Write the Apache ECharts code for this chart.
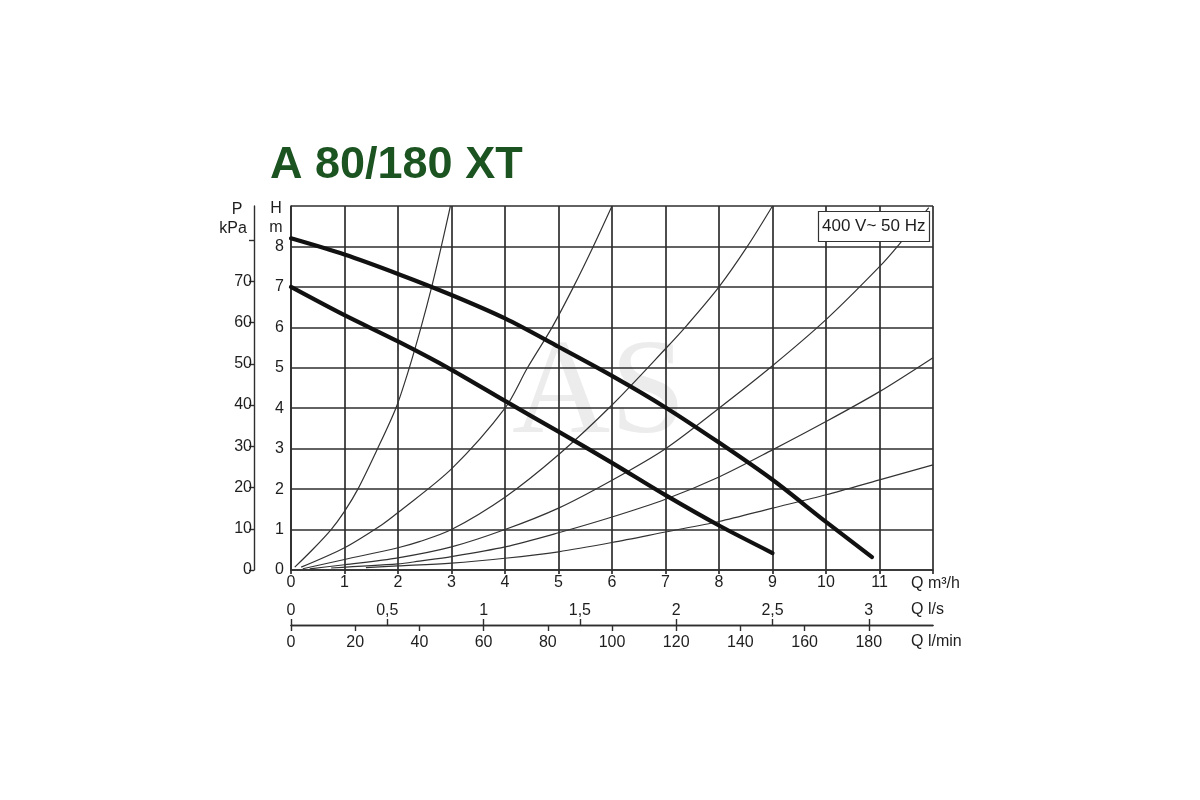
<!DOCTYPE html>
<html>
<head>
<meta charset="utf-8">
<script src="https://cdn.jsdelivr.net/npm/echarts@6/dist/echarts.min.js"></script>
<style>
html,body{margin:0;padding:0;background:#fff;}
#chart{width:1200px;height:800px;}
</style>
</head>
<body>
<div id="chart"></div>
<script>
// ---- Data (Q in m3/h, H in m) ----
const titleText = 'A 80/180 XT';
const supplyText = '400 V~ 50 Hz';

// pump curves (thick)
const pumpHigh = [[0,8.2],[1,7.8],[2,7.32],[3,6.8],[4,6.22],[5,5.52],[6,4.8],[7,4.02],[8,3.15],[9,2.23],[10,1.19],[10.86,0.32]];
const pumpLow  = [[0,7.0],[1,6.3],[2,5.65],[3,4.95],[4,4.18],[5,3.42],[6,2.65],[7,1.85],[8,1.1],[9,0.42]];

// system curves (thin)
const sys1 = [[0.07,0.07],[0.4,0.5],[0.75,1.0],[1,1.45],[1.25,2.0],[1.6,2.95],[1.96,4.0],[2.2,4.95],[2.43,6.0],[2.63,7.0],[2.81,8.0],[2.98,9.0]];
const sys2 = [[0.19,0.07],[1,0.55],[1.7,1.12],[2,1.42],[3,2.5],[4,4.0],[4.42,5.0],[4.88,6.0],[5.28,7.0],[5.65,8.0],[6,9.0]];
const sys3 = [[0.22,0.03],[1,0.26],[2,0.55],[2.4,0.7],[3,1.0],[4,1.8],[5,2.85],[6,4.08],[7,5.47],[7.4,6.05],[8,7.0],[8.53,8.0],[9,9.0]];
const sys4 = [[0.35,0.03],[1,0.13],[2,0.3],[3,0.57],[4,1.0],[5,1.53],[6,2.22],[7,3.0],[8,4.0],[9,5.05],[10,6.19],[11,7.5],[11.36,8.04],[11.92,8.96]];
const sys5 = [[0.75,0.05],[2,0.15],[2.4,0.22],[3,0.33],[4,0.57],[5,0.92],[6,1.31],[7,1.75],[8,2.3],[9,2.97],[10,3.67],[11,4.41],[12,5.25]];
const sys6 = [[1.4,0.06],[2,0.1],[3,0.17],[4,0.29],[5,0.45],[6,0.68],[7,0.94],[8,1.2],[9,1.53],[10,1.86],[11,2.23],[12,2.6]];

// axis ticks / labels
const qM3hLabels = [0,1,2,3,4,5,6,7,8,9,10,11];
const qLsTicks   = [0,0.5,1,1.5,2,2.5,3];
const qLminTicks = [0,20,40,60,80,100,120,140,160,180];
const hLabels    = [0,1,2,3,4,5,6,7,8];
const pTicks     = [0,10,20,30,40,50,60,70,80];
const pLabels    = [0,10,20,30,40,50,60,70];

const FONT = "'Liberation Sans', Arial, sans-serif";
const LINE = '#2e2e2e';
const lbl = {fontSize:16, color:'#1e1e1e', fontFamily:FONT};
const nameFont = "16px 'Liberation Sans', Arial, sans-serif";

const chart = echarts.init(document.getElementById('chart'));

function thin(d){ return {type:'line', data:d, xAxisIndex:0, yAxisIndex:0, showSymbol:false, smooth:0.3,
  lineStyle:{color:'#333', width:1.2}, z:3, silent:true}; }
function thick(d){ return {type:'line', data:d, xAxisIndex:0, yAxisIndex:0, showSymbol:false, smooth:0.3,
  lineStyle:{color:'#111', width:4.2, cap:'round'}, z:4, silent:true}; }

const option = {
  backgroundColor:'#fff',
  animation:false,
  title:[
    {text:titleText, left:270, top:143, padding:0,
     textStyle:{fontSize:45, fontWeight:'bold', color:'#1b5321', fontFamily:FONT}},
    {text:supplyText, left:818, top:211, padding:[7,4,7,4], backgroundColor:'#fff',
     borderColor:'#333', borderWidth:1.2,
     textStyle:{fontSize:17, fontWeight:'normal', color:'#1e1e1e', fontFamily:FONT}}
  ],
  grid:{left:291, right:267, top:206, bottom:230, containLabel:false},
  xAxis:[
    {type:'value', min:0, max:12, interval:1, position:'bottom',
     axisLine:{show:true, onZero:false, lineStyle:{color:LINE, width:1.7}},
     axisTick:{show:true, length:4, lineStyle:{color:LINE, width:1.7}},
     axisLabel:Object.assign({customValues:qM3hLabels, margin:5}, lbl),
     splitLine:{show:true, lineStyle:{color:LINE, width:1.7}}},
    {type:'value', min:0, max:12/3.6, position:'bottom', offset:55,
     axisLine:{show:true, onZero:false, lineStyle:{color:LINE, width:1.4}},
     axisTick:{show:true, inside:true, length:6, customValues:qLsTicks, lineStyle:{color:LINE, width:1.4}},
     axisLabel:Object.assign({customValues:qLsTicks, inside:true, margin:6,
        formatter:v=>String(v).replace('.',',')}, lbl),
     splitLine:{show:false}},
    {type:'value', min:0, max:200, position:'bottom', offset:55,
     axisLine:{show:true, onZero:false, lineStyle:{color:LINE, width:1.4}},
     axisTick:{show:true, length:6, customValues:qLminTicks, lineStyle:{color:LINE, width:1.4}},
     axisLabel:Object.assign({customValues:qLminTicks, margin:10}, lbl),
     splitLine:{show:false}}
  ],
  yAxis:[
    {type:'value', min:0, max:9, interval:1, position:'left',
     axisLine:{show:true, onZero:false, lineStyle:{color:LINE, width:1.7}},
     axisTick:{show:false},
     axisLabel:Object.assign({customValues:hLabels, margin:7}, lbl),
     splitLine:{show:true, lineStyle:{color:LINE, width:1.7}}},
    {type:'value', min:0, max:9*9.80665, position:'left', offset:37,
     axisLine:{show:true, onZero:false, lineStyle:{color:LINE, width:1.4}},
     axisTick:{show:true, length:5, customValues:pTicks, lineStyle:{color:LINE, width:1.4}},
     axisLabel:Object.assign({customValues:pLabels, margin:2}, lbl),
     splitLine:{show:false}}
  ],
  graphic:[
    {type:'text', left:512, top:328, z:-10, silent:true,
     style:{text:'AS', font:"136px 'Liberation Serif', 'DejaVu Serif', serif", fill:'#ececec'}},
    {type:'text', x:237, y:210, style:{text:'P', fill:'#1e1e1e', font:nameFont, align:'center', verticalAlign:'middle'}},
    {type:'text', x:233, y:229, style:{text:'kPa', fill:'#1e1e1e', font:nameFont, align:'center', verticalAlign:'middle'}},
    {type:'text', x:276, y:209, style:{text:'H', fill:'#1e1e1e', font:nameFont, align:'center', verticalAlign:'middle'}},
    {type:'text', x:276, y:228, style:{text:'m', fill:'#1e1e1e', font:nameFont, align:'center', verticalAlign:'middle'}},
    {type:'text', x:911, y:584, style:{text:'Q m³/h', fill:'#1e1e1e', font:nameFont, align:'left', verticalAlign:'middle'}},
    {type:'text', x:911, y:610, style:{text:'Q l/s', fill:'#1e1e1e', font:nameFont, align:'left', verticalAlign:'middle'}},
    {type:'text', x:911, y:642, style:{text:'Q l/min', fill:'#1e1e1e', font:nameFont, align:'left', verticalAlign:'middle'}}
  ],
  series:[
    thin(sys1), thin(sys2), thin(sys3), thin(sys4), thin(sys5), thin(sys6),
    thick(pumpHigh), thick(pumpLow)
  ]
};
chart.setOption(option);
</script>
</body>
</html>
